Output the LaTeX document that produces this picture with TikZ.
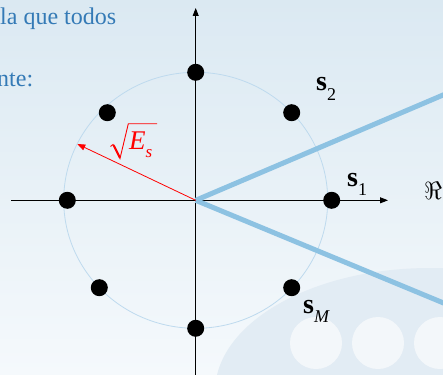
\documentclass[tikz,border=0pt]{standalone}
\usepackage{fontspec}
\setmainfont{Liberation Serif}
\usetikzlibrary{arrows.meta}
\definecolor{bgtop}{RGB}{219,233,242}
\definecolor{bgbot}{RGB}{245,249,252}
\definecolor{blobc}{RGB}{226,236,244}
\definecolor{holec}{RGB}{243,247,250}
\definecolor{txtblue}{RGB}{52,122,182}
\definecolor{regblue}{RGB}{141,194,226}
\definecolor{circblue}{RGB}{190,218,238}
\tikzset{
  axisline/.style={black, line width=0.9pt, -{Triangle[length=8pt,width=6pt]}},
  regline/.style={regblue, line width=5pt},
  sigdot/.style={circle, fill=black, inner sep=0pt, minimum size=17pt},
  siglabel/.style={anchor=base west, inner sep=0pt, font=\fontsize{28}{32}\selectfont},
  mathlabel/.style={anchor=base west, inner sep=0pt, font=\fontsize{24.88}{30}\selectfont},
  slidetext/.style={anchor=base west, inner sep=0pt, text=txtblue, font=\fontsize{24}{28}\selectfont},
}
\newcommand{\lowsub}[1]{\raisebox{-0.35em}{\fontsize{18}{20}\selectfont #1}}
\begin{document}
\begin{tikzpicture}[x=1pt,y=-1pt]
\useasboundingbox (0,0) rectangle (443,374);
\clip (0,0) rectangle (443,374);
% background
\shade[top color=bgtop, bottom color=bgbot] (0,0) rectangle (443,374);
\fill[blobc] (430,392) ellipse [x radius=215pt, y radius=124pt];
\fill[holec] (316,343) circle (26pt);
\fill[holec] (378,343) circle (26pt);
\fill[holec] (440,343) circle (26pt);
% slide text
\node[slidetext] (t1) at (0,25) {la que todos};
\node[slidetext] (t2) at (-3,87) {nte:};
% coordinates
\coordinate (o) at (195.7,200.3);
\coordinate (xl) at (11,200.3);
\coordinate (xr) at (388,200.3);
\coordinate (yb) at (195.7,380);
\coordinate (yt) at (195.7,8);
\coordinate (bu) at (452,91.2);
\coordinate (bl) at (452,306.5);
\coordinate (rt) at (77.3,144);
% circle
\draw[circblue, line width=0.8pt] (o) ellipse [x radius=132pt, y radius=128pt];
% axes
\draw[axisline] (xl) -- (xr);
\draw[axisline] (yb) -- (yt);
% decision region boundaries
\draw[regline] (o) -- (bu);
\draw[regline] (o) -- (bl);
% energy arrow
\draw[red, line width=0.8pt, -{Triangle[length=8pt,width=6pt]}] (o) -- (rt);
% signal points
\node[sigdot] (d0) at (331.7,200.3) {};
\node[sigdot] (d1) at (291.7,112.7) {};
\node[sigdot] (d2) at (195.7,72.3) {};
\node[sigdot] (d3) at (107.3,112.7) {};
\node[sigdot] (d4) at (67.3,200.3) {};
\node[sigdot] (d5) at (99.3,287.7) {};
\node[sigdot] (d6) at (195.7,328.3) {};
\node[sigdot] (d7) at (291.7,287.7) {};
% labels
\node[siglabel] (l1) at (347,186) {\textbf{s}\lowsub{1}};
\node[siglabel] (l2) at (316,91) {\textbf{s}\lowsub{2}};
\node[siglabel] (lm) at (303,313) {\textbf{s}\lowsub{\itshape M}};
\node[mathlabel] (re) at (424,199) {$\Re$};
% sqrt(E_s)
\node[anchor=base west, inner sep=0pt, text=red, font=\fontsize{27}{32}\selectfont\itshape] (es) at (129,149.5) {E\raisebox{-0.3em}{\fontsize{17}{20}\selectfont s}};
\draw[red, line width=0.9pt, line join=miter] (110.5,146.5) -- (113,144.5) -- (120,158.5) -- (128.3,123.8) -- (157,123.8);
\draw[red, line width=2pt] (113.5,145) -- (119.8,157.5);
\end{tikzpicture}
\end{document}
